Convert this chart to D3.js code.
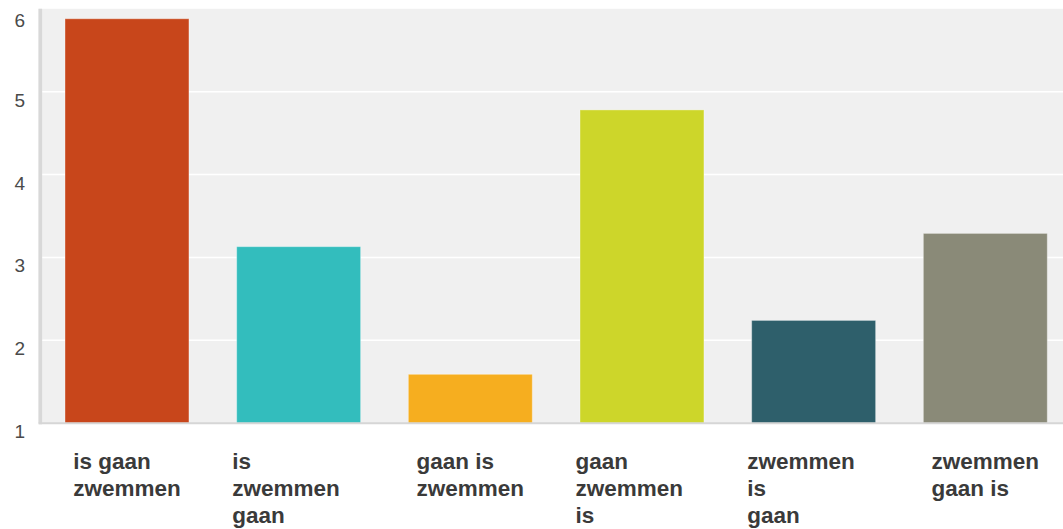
<!DOCTYPE html>
<html>
<head>
<meta charset="utf-8">
<script src="https://cdn.jsdelivr.net/npm/d3@7"></script>
<style>
  html, body { margin: 0; padding: 0; background: #ffffff; }
  svg { display: block; font-family: Arial, "Liberation Sans", sans-serif; }
</style>
</head>
<body>
<svg id="chart" width="1063" height="529"></svg>
<script>
// Word orders and their scores
const categories = [
  "is gaan zwemmen",
  "is zwemmen gaan",
  "gaan is zwemmen",
  "gaan zwemmen is",
  "zwemmen is gaan",
  "zwemmen gaan is"
];
const labelLines = [
  ["is gaan", "zwemmen"],
  ["is", "zwemmen", "gaan"],
  ["gaan is", "zwemmen"],
  ["gaan", "zwemmen", "is"],
  ["zwemmen", "is", "gaan"],
  ["zwemmen", "gaan is"]
];
const values = [5.88, 3.13, 1.59, 4.78, 2.24, 3.29];
const colors = ["#c8461b", "#33bdbd", "#f6ae1f", "#cdd62a", "#2e5f6b", "#8a8a78"];
const yTicks = [1, 2, 3, 4, 5, 6];

const svg = d3.select("#chart");
const W = 1063, H = 529;

const plot = { left: 41.15, right: 1071.15, top: 8.8, bottom: 423.2 };

const x = d3.scaleBand()
  .domain(categories)
  .range([plot.left, plot.right])
  .paddingInner(0.278)
  .paddingOuter(0.139);

const y = d3.scaleLinear()
  .domain([1, 6])
  .range([plot.bottom, plot.top]);

// plot background
svg.append("rect")
  .attr("x", plot.left - 3)
  .attr("y", plot.top)
  .attr("width", W - plot.left + 3)
  .attr("height", plot.bottom - plot.top)
  .attr("fill", "#f0f0f0");

// horizontal gridlines
svg.append("g")
  .selectAll("line")
  .data(yTicks.filter(t => t > 1 && t < 6))
  .join("line")
  .attr("x1", plot.left + 1)
  .attr("x2", W)
  .attr("y1", d => y(d))
  .attr("y2", d => y(d))
  .attr("stroke", "#ffffff")
  .attr("stroke-width", 1.6);

// bars rising from the baseline value 1
svg.append("g")
  .selectAll("rect")
  .data(categories)
  .join("rect")
  .attr("x", d => x(d))
  .attr("width", x.bandwidth())
  .attr("y", (d, i) => y(values[i]))
  .attr("height", (d, i) => y(1) - y(values[i]))
  .attr("fill", (d, i) => colors[i])
  .attr("stroke", "rgba(255,255,255,0.35)")
  .attr("stroke-width", 1);

// axis lines
svg.append("line")
  .attr("x1", plot.left - 0.8).attr("x2", plot.left - 0.8)
  .attr("y1", plot.top).attr("y2", plot.bottom + 1)
  .attr("stroke", "#d8d8d8").attr("stroke-width", 3.5);
svg.append("line")
  .attr("x1", plot.left - 2.5).attr("x2", W)
  .attr("y1", plot.bottom).attr("y2", plot.bottom)
  .attr("stroke", "#d6d6d6").attr("stroke-width", 2);

// y tick labels
svg.append("g")
  .selectAll("text")
  .data(yTicks)
  .join("text")
  .attr("x", 25)
  .attr("y", d => Math.max(y(d) + 15, 26.5))
  .attr("text-anchor", "end")
  .attr("font-size", 19)
  .attr("fill", "#4a4a4a")
  .text(d => d);

// wrapped category labels, left-aligned block centred under each bar
const wrapWidth = 133;
const lineHeight = 27;
const labels = svg.append("g")
  .attr("font-size", 22.5)
  .attr("font-weight", "bold")
  .attr("fill", "#3a3a3a");

categories.forEach((c, i) => {
  const lines = labelLines[i];
  const t = labels.append("text").attr("y", 469);
  lines.forEach((ln, j) => {
    t.append("tspan").attr("dy", j === 0 ? 0 : lineHeight).text(ln);
  });
  // measure widest line to set the block width
  let widest = 0;
  t.selectAll("tspan").each(function () {
    widest = Math.max(widest, this.getComputedTextLength());
  });
  const blockW = lines.length > 2 ? wrapWidth : widest;
  const left = x(c) + x.bandwidth() / 2 - blockW / 2;
  t.attr("x", left);
  t.selectAll("tspan").attr("x", left);
});
</script>
</body>
</html>
